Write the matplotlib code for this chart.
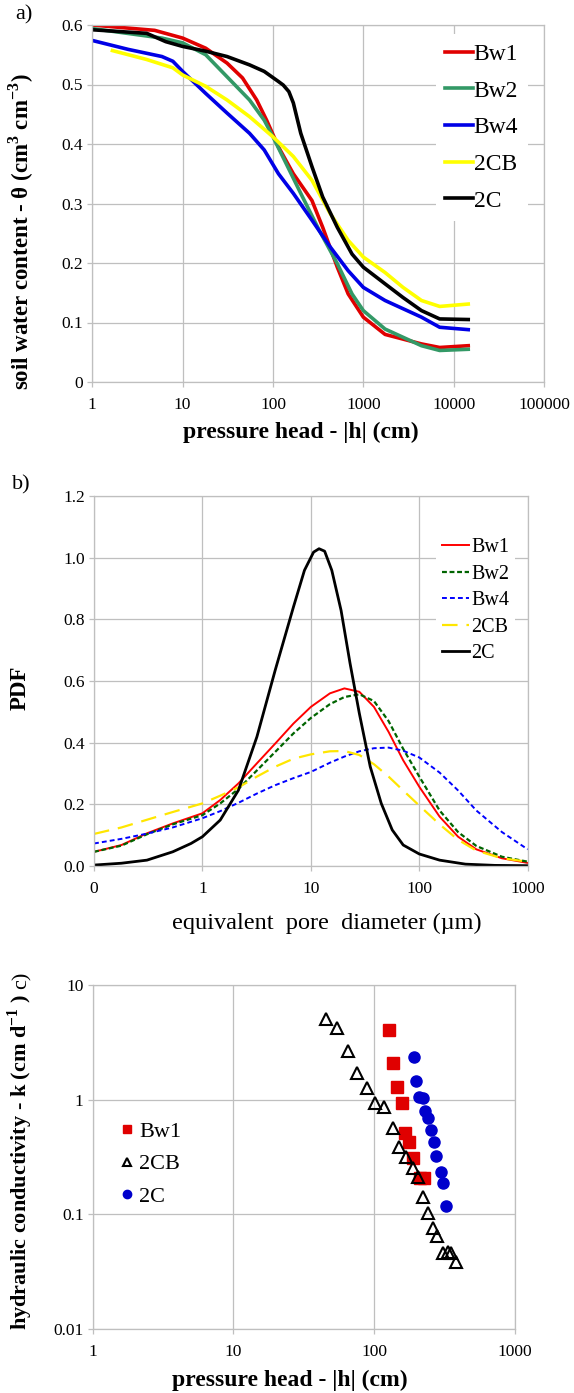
import numpy as np
import matplotlib
matplotlib.use('Agg')
import matplotlib.pyplot as plt
from matplotlib.ticker import FixedLocator, FixedFormatter, NullLocator

# ---- a) water retention curves: pressure head (cm) vs theta
h_bw1 = [1, 2, 4.9, 10, 18, 31, 46, 66, 85, 115, 168, 270, 355, 515, 680, 1000, 1740, 4400, 7000, 14500]
th_bw1 = [0.600, 0.596, 0.591, 0.578, 0.561, 0.536, 0.511, 0.474, 0.440, 0.395, 0.350, 0.305, 0.260,
          0.193, 0.148, 0.109, 0.080, 0.064, 0.058, 0.061]
h_bw2 = [1, 5.9, 10, 18, 31, 55, 80, 100, 140, 203, 325, 515, 750, 1000, 1740, 4400, 7000, 14500]
th_bw2 = [0.594, 0.578, 0.570, 0.550, 0.513, 0.474, 0.440, 0.412, 0.367, 0.317, 0.255, 0.199, 0.148,
          0.120, 0.089, 0.061, 0.053, 0.055]
h_bw4 = [1, 2.5, 5.9, 7.8, 10, 18, 31, 55, 80, 115, 168, 270, 430, 680, 1000, 1740, 4400, 7000, 14500]
th_bw4 = [0.574, 0.559, 0.547, 0.539, 0.522, 0.485, 0.452, 0.418, 0.390, 0.350, 0.317, 0.272, 0.227,
          0.187, 0.159, 0.137, 0.109, 0.092, 0.088]
h_2cb = [1.67, 4, 7.8, 10, 18, 31, 55, 100, 168, 270, 430, 680, 1000, 1740, 2750, 4400, 7000, 14500]
th_2cb = [0.557, 0.542, 0.528, 0.516, 0.497, 0.474, 0.446, 0.412, 0.379, 0.339, 0.283, 0.238, 0.210,
          0.184, 0.159, 0.137, 0.127, 0.131]
h_2c = [1, 4, 6.5, 10, 18, 31, 55, 80, 115, 130, 150, 168, 203, 270, 355, 515, 750, 1000, 1740, 2750,
        4400, 7000, 14500]
th_2c = [0.592, 0.586, 0.572, 0.564, 0.556, 0.547, 0.533, 0.522, 0.505, 0.499, 0.488, 0.469, 0.418,
         0.362, 0.311, 0.260, 0.215, 0.193, 0.165, 0.142, 0.120, 0.106, 0.105]

# ---- b) pore size distribution: equivalent pore diameter (um) vs PDF
d_pdf = [0.1, 0.179, 0.308, 0.532, 1, 1.46, 2.15, 3.18, 4.69, 6.91, 10, 15, 20.4, 28, 38.2, 52.1,
         71, 100, 154, 228, 336, 579, 1000]
pdf_bw1 = [0.046, 0.068, 0.106, 0.138, 0.171, 0.214, 0.268, 0.333, 0.397, 0.462, 0.516, 0.560, 0.576,
           0.565, 0.516, 0.435, 0.343, 0.257, 0.160, 0.095, 0.054, 0.025, 0.010]
pdf_bw2 = [0.046, 0.066, 0.103, 0.135, 0.165, 0.203, 0.250, 0.310, 0.370, 0.430, 0.480, 0.525, 0.548,
           0.557, 0.535, 0.470, 0.380, 0.290, 0.180, 0.110, 0.065, 0.030, 0.014]
pdf_bw4 = [0.073, 0.088, 0.105, 0.125, 0.155, 0.178, 0.205, 0.235, 0.262, 0.285, 0.305, 0.335, 0.355,
           0.372, 0.382, 0.384, 0.374, 0.352, 0.303, 0.245, 0.180, 0.110, 0.054]
pdf_2cb = [0.104, 0.125, 0.150, 0.175, 0.203, 0.228, 0.255, 0.290, 0.322, 0.348, 0.362, 0.372, 0.373,
           0.360, 0.330, 0.290, 0.245, 0.196, 0.135, 0.085, 0.050, 0.025, 0.014]
d_2c = [0.1, 0.179, 0.308, 0.532, 0.784, 1, 1.46, 2.15, 3.18, 4.69, 6.91, 8.73, 10.6, 11.9, 13.4,
        15.6, 19, 23, 28, 35.3, 44.6, 56.3, 71.1, 100, 154, 267, 497, 1000]
pdf_2c = [0.003, 0.009, 0.019, 0.046, 0.073, 0.095, 0.149, 0.246, 0.419, 0.635, 0.840, 0.959, 1.018,
          1.029, 1.021, 0.959, 0.829, 0.657, 0.495, 0.322, 0.203, 0.117, 0.068, 0.039, 0.019, 0.006,
          0.002, 0.001]

# ---- c) hydraulic conductivity: pressure head (cm) vs k (cm/d)
h_k_bw1 = [127.6, 137, 146, 158, 166, 178, 190, 212, 226]
k_bw1 = [4.05, 2.07, 1.30, 0.929, 0.509, 0.431, 0.308, 0.206, 0.206]
h_k_2cb = [45.3, 54.2, 64.9, 76, 89.5, 102, 118, 135.6, 151, 168.5, 188, 206, 224, 243, 264, 281,
           310, 333, 354, 380]
k_2cb = [5.05, 4.19, 2.66, 1.70, 1.26, 0.94, 0.87, 0.562, 0.389, 0.318, 0.255, 0.21, 0.143, 0.102,
         0.0755, 0.0647, 0.0457, 0.0472, 0.0457, 0.0386]
h_k_2c = [192, 200, 210, 223, 230, 241, 253, 267, 278, 297, 310, 325]
k_2c = [2.37, 1.46, 1.06, 1.04, 0.796, 0.697, 0.544, 0.43, 0.323, 0.236, 0.189, 0.119]

W, H = 574, 1393
GRID = '#bfbfbf'
SERIF = 'Liberation Serif'

plt.rcParams['font.family'] = [SERIF, 'DejaVu Serif']
plt.rcParams['mathtext.fontset'] = 'custom'
plt.rcParams['mathtext.rm'] = SERIF
plt.rcParams['mathtext.bf'] = SERIF + ':bold'


def px_axes(fig, x0, x1, ytop, ybot):
    # axes from pixel box (origin top-left)
    return fig.add_axes([x0 / W, 1 - ybot / H, (x1 - x0) / W, (ybot - ytop) / H])


def style(ax):
    for sp in ax.spines.values():
        sp.set_color(GRID)
        sp.set_linewidth(0.9)
    ax.grid(True, color=GRID, lw=0.9)
    ax.set_axisbelow(True)
    ax.tick_params(direction='out', length=3.5, width=0.9, color=GRID, labelsize=12.5)
    ax.tick_params(axis='x', pad=7)
    ax.tick_params(axis='y', pad=3)


def ftext(fig, x, y, s, **kw):
    fig.text(x / W, 1 - y / H, s, ha='center', va='center', **kw)


fig = plt.figure(figsize=(W / 100, H / 100), dpi=100)

# ---------------- a)
ax = px_axes(fig, 92.3, 544, 25, 382)
style(ax)
lw_a = 2.6
ax.plot(h_bw1, th_bw1, color='#e00000', lw=lw_a, label='Bw1')
ax.plot(h_bw2, th_bw2, color='#339966', lw=lw_a, label='Bw2')
ax.plot(h_bw4, th_bw4, color='#0000e6', lw=lw_a, label='Bw4')
ax.plot(h_2cb, th_2cb, color='#ffff00', lw=lw_a, label='2CB')
ax.plot(h_2c, th_2c, color='black', lw=lw_a, label='2C')
ax.set_xscale('log')
ax.set_xlim(1, 100000)
ax.set_ylim(0, 0.6)
ax.xaxis.set_major_locator(FixedLocator([1, 10, 100, 1000, 10000, 100000]))
ax.xaxis.set_major_formatter(FixedFormatter(['1', '10', '100', '1000', '10000', '100000']))
ax.xaxis.set_minor_locator(NullLocator())
ax.set_yticks([0, 0.1, 0.2, 0.3, 0.4, 0.5, 0.6])
ax.set_yticklabels(['0', '0.1', '0.2', '0.3', '0.4', '0.5', '0.6'])
ax.legend(loc='upper left', bbox_to_anchor=(436 / W, 1 - 34 / H), bbox_transform=fig.transFigure,
          fontsize=17, frameon=True, fancybox=False, edgecolor='none', facecolor='white', framealpha=1,
          handlelength=1.15, handletextpad=0.05, labelspacing=0.64, borderpad=0.4, borderaxespad=0)
ftext(fig, 24, 15, 'a)', fontsize=16)
ftext(fig, 21.7, 232, r'soil water content - θ (cm$^{\mathbf{3}}$ cm$^{\mathbf{-3}}$)',
      fontsize=16.5, fontweight='bold', rotation=90)
ftext(fig, 301, 432, 'pressure head - |h| (cm)', fontsize=17, fontweight='bold')

# ---------------- b)
ax = px_axes(fig, 94, 527.7, 496, 866)
style(ax)
ax.plot(d_pdf, pdf_bw1, color='#ff0000', lw=1.4, label='Bw1')
ax.plot(d_pdf, pdf_bw2, color='#006400', lw=1.6, ls=(0, (2.2, 1.2)), label='Bw2')
ax.plot(d_pdf, pdf_bw4, color='#0000ff', lw=1.4, ls=(0, (2.5, 1.6)), label='Bw4')
ax.plot(d_pdf, pdf_2cb, color='#ffe600', lw=1.6, ls=(0, (7, 4)), label='2CB')
ax.plot(d_2c, pdf_2c, color='black', lw=2.0, label='2C')
ax.set_xscale('log')
ax.set_xlim(0.1, 1000)
ax.set_ylim(0, 1.2)
ax.xaxis.set_major_locator(FixedLocator([0.1, 1, 10, 100, 1000]))
ax.xaxis.set_major_formatter(FixedFormatter(['0', '1', '10', '100', '1000']))
ax.xaxis.set_minor_locator(NullLocator())
ax.set_yticks(np.round(np.arange(0, 1.21, 0.2), 1))
ax.set_yticklabels(['0.0', '0.2', '0.4', '0.6', '0.8', '1.0', '1.2'])
ax.legend(loc='upper left', bbox_to_anchor=(436 / W, 1 - 532 / H), bbox_transform=fig.transFigure,
          fontsize=14.5, frameon=True, fancybox=False, edgecolor='none', facecolor='white', framealpha=1,
          handlelength=1.35, handletextpad=0.1, labelspacing=0.37, borderpad=0.3, borderaxespad=0)
ftext(fig, 21, 485, 'b)', fontsize=16)
ftext(fig, 20, 688, 'PDF', fontsize=16.5, fontweight='bold', rotation=90)
ftext(fig, 327, 923, 'equivalent  pore  diameter (µm)', fontsize=17.5)

# ---------------- c)
ax = px_axes(fig, 92.7, 514.7, 985, 1329)
style(ax)
ax.plot(h_k_bw1, k_bw1, ls='none', marker='s', ms=8, mfc='#e00000', mec='#e00000', label='Bw1')
ax.plot(h_k_2cb, k_2cb, ls='none', marker='^', ms=8.5, mfc='none', mec='black', mew=1.5, label='2CB')
ax.plot(h_k_2c, k_2c, ls='none', marker='o', ms=8, mfc='#0000cc', mec='#0000cc', label='2C')
ax.set_xscale('log')
ax.set_yscale('log')
ax.set_xlim(1, 1000)
ax.set_ylim(0.01, 10)
ax.xaxis.set_major_locator(FixedLocator([1, 10, 100, 1000]))
ax.xaxis.set_major_formatter(FixedFormatter(['1', '10', '100', '1000']))
ax.yaxis.set_major_locator(FixedLocator([0.01, 0.1, 1, 10]))
ax.yaxis.set_major_formatter(FixedFormatter(['0.01', '0.1', '1', '10']))
ax.xaxis.set_minor_locator(NullLocator())
ax.yaxis.set_minor_locator(NullLocator())
ax.legend(loc='upper left', bbox_to_anchor=(119 / W, 1 - 1121 / H), bbox_transform=fig.transFigure,
          fontsize=16, frameon=False, handlelength=0.7, handletextpad=0.2, labelspacing=0.55,
          borderpad=0, borderaxespad=0, markerscale=0.75)
ftext(fig, 22, 980, 'c)', fontsize=16, rotation=90)
ftext(fig, 20, 1162, r'hydraulic conductivity - k (cm d$^{\mathbf{-1}}$ )', fontsize=16,
      fontweight='bold', rotation=90)
ftext(fig, 290, 1380, 'pressure head - |h| (cm)', fontsize=17, fontweight='bold')

fig.savefig('out.png', dpi=100)
